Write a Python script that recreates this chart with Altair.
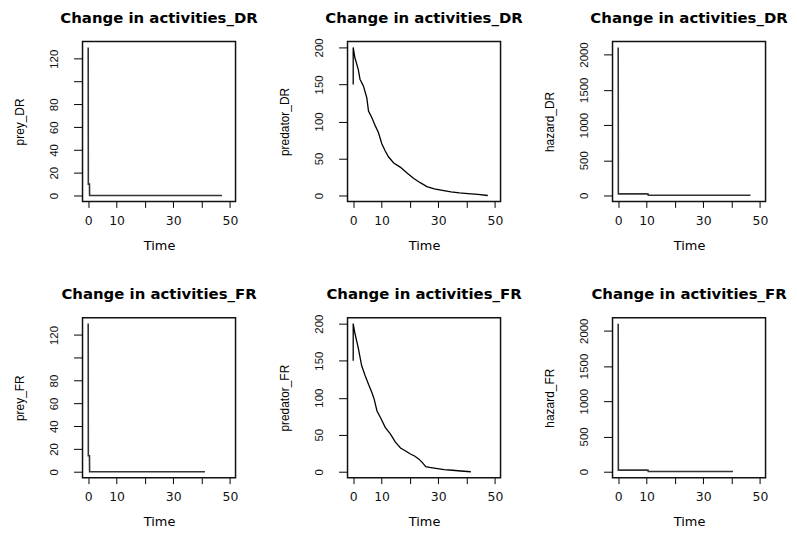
import altair as alt
import pandas as pd

# ---- data ----
x_ticks = [0, 10, 20, 30, 40, 50]
prey_ticks = [0, 20, 40, 60, 80, 100, 120]
pred_ticks = [0, 50, 100, 150, 200]
haz_ticks = [0, 500, 1000, 1500, 2000]

time_prey_dr = [0, 0.05, 0.45, 0.5, 47.2]
prey_dr = [130, 10, 10, 0, 0]
time_prey_fr = [0, 0.05, 0.45, 0.5, 41.2]
prey_fr = [130, 14, 14, 0, 0]

time_pred_dr = [0, 0, 0.6, 1.8, 2.4, 3.6, 4.8, 5.4, 6.6, 7.8, 8.9, 10.1, 11.3, 12.5,
                14.3, 16.7, 19.1, 21.4, 23.8, 26.0, 28.6, 31.5, 34.5, 37.5, 40.5, 44.0, 47.5]
pred_dr = [150, 200, 186, 170, 157, 148, 132, 114, 105, 94, 85, 70, 60, 52,
           44, 38, 30, 23, 17, 12, 9, 7, 5, 3.5, 2.5, 1.5, 0]

time_pred_fr = [0, 0, 0.6, 1.8, 3.0, 4.2, 5.4, 6.6, 7.4, 8.4, 9.8, 11.3, 13.1, 14.9,
                16.7, 18.5, 20.2, 21.8, 23.2, 24.5, 25.6, 27.0, 28.6, 32.1, 35.0, 38.0, 41.5]
pred_fr = [150, 200, 187, 167, 143, 130, 118, 107, 98, 82, 72, 60, 51, 40,
           32, 28, 24, 21, 17, 12, 7, 6, 5, 3, 2, 1, 0]

time_haz_dr = [0, 0.05, 10.5, 10.6, 46.7]
haz_dr = [2100, 22, 22, 3, 3]
time_haz_fr = [0, 0.05, 10.5, 10.6, 40.5]
haz_fr = [2100, 22, 22, 3, 3]

TITLE_DR = "Change in activities_DR"
TITLE_FR = "Change in activities_FR"

W, H = 154, 161


def panel(t, v, ylab, title, ydom, yticks, ylabel_expr, color, sw):
    df = pd.DataFrame({"t": t, "v": v, "i": list(range(len(t)))})
    line = (
        alt.Chart(df)
        .mark_line(color=color, strokeWidth=sw)
        .encode(
            x=alt.X(
                "t:Q",
                scale=alt.Scale(domain=[-2, 52], nice=False, zero=False),
                axis=alt.Axis(
                    values=x_ticks, title="Time", domain=False, grid=False,
                    tickSize=6, tickColor="#000", tickWidth=1,
                    labelExpr="datum.value == 20 || datum.value == 40 ? '' : datum.label",
                    labelFont="DejaVu Sans", labelFontSize=12.5, labelColor="#111",
                    labelPadding=7, labelOverlap=False, labelFlush=False,
                    titleFont="DejaVu Sans", titleFontSize=13, titleFontWeight="normal",
                    titleColor="#000", titlePadding=13,
                ),
            ),
            y=alt.Y(
                "v:Q",
                scale=alt.Scale(domain=ydom, nice=False, zero=False),
                axis=alt.Axis(
                    values=yticks, title=ylab, domain=False, grid=False,
                    tickSize=9, tickColor="#000", tickWidth=1,
                    format="d", labelExpr=ylabel_expr,
                    labelAngle=270, labelAlign="center", labelBaseline="bottom",
                    labelFont="Liberation Sans", labelFontSize=11.5, labelColor="#111",
                    labelPadding=14, labelOverlap=False, labelFlush=False,
                    titleFont="Liberation Sans", titleFontSize=12, titleFontWeight="normal",
                    titleColor="#000", titlePadding=22,
                ),
            ),
            order="i:Q",
        )
    )
    head = (
        alt.Chart(pd.DataFrame({"title": [title]}))
        .mark_text(font="DejaVu Sans", fontSize=15, fontWeight="bold",
                   align="center", baseline="top", color="#000")
        .encode(text="title:N", x=alt.value(W / 2), y=alt.value(-31))
    )
    return alt.layer(line, head).properties(width=W, height=H)


prey_expr = "datum.value == 100 ? '' : datum.label"
plain = "datum.label"

p1 = panel(time_prey_dr, prey_dr, "prey_DR", TITLE_DR, [-5.2, 135.2], prey_ticks, prey_expr, "#333", 1.6)
p2 = panel(time_pred_dr, pred_dr, "predator_DR", TITLE_DR, [-8, 208], pred_ticks, plain, "#000", 1.3)
p3 = panel(time_haz_dr, haz_dr, "hazard_DR", TITLE_DR, [-85, 2185], haz_ticks, plain, "#333", 1.6)
p4 = panel(time_prey_fr, prey_fr, "prey_FR", TITLE_FR, [-5.2, 135.2], prey_ticks, prey_expr, "#333", 1.6)
p5 = panel(time_pred_fr, pred_fr, "predator_FR", TITLE_FR, [-8, 208], pred_ticks, plain, "#000", 1.3)
p6 = panel(time_haz_fr, haz_fr, "hazard_FR", TITLE_FR, [-85, 2185], haz_ticks, plain, "#333", 1.6)

chart = (
    alt.concat(p1, p2, p3, p4, p5, p6, columns=3,
               spacing={"row": 117, "column": 112.7}, bounds="flush")
    .configure_view(stroke="#111", strokeWidth=1.5)
    .properties(padding={"left": 5, "top": 0, "right": 0, "bottom": 0},
                background="white")
)

chart.save("out.html", embed_options={"renderer": "svg", "actions": False})
